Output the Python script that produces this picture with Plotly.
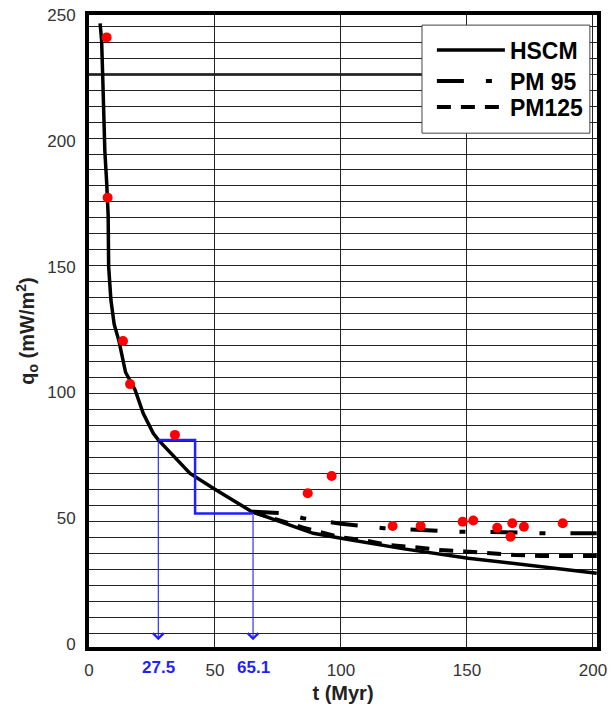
import plotly.graph_objects as go

# ---------------- data ----------------
hscm_t = [4.4, 5.0, 5.4, 5.8, 6.3, 7.0, 7.6, 7.8, 8.7, 10.0, 11.9, 14.5, 18.3, 21.5, 25.5, 27.5,
          34.8, 40.1, 49.3, 57.3, 64.6, 75.8, 83.7, 89.0, 100.0, 125.0, 150.5, 179.0, 201.5]
hscm_q = [246.7, 240.0, 227.0, 211.6, 195.7, 183.7, 170.5, 150.0, 136.7, 127.0, 120.4, 108.0, 101.0,
          91.7, 83.7, 81.1, 73.1, 67.8, 61.9, 57.2, 52.6, 48.6, 46.0, 44.0, 42.0, 37.8, 34.1, 30.7, 28.1]

pm95_t = [64.6, 76.0, 85.0, 95.0, 100.0, 110.0, 117.0, 125.0, 133.0, 148.0, 165.0, 180.0, 201.5]
pm95_q = [52.6, 52.0, 50.0, 48.5, 47.8, 46.8, 46.0, 45.6, 45.3, 44.6, 44.4, 44.0, 44.0]

pm125_t = [64.6, 76.0, 85.0, 95.0, 100.0, 109.0, 119.0, 129.0, 139.0, 149.0, 159.0, 169.0, 179.0, 190.0, 201.5]
pm125_q = [52.6, 48.8, 46.2, 43.6, 42.4, 41.3, 39.3, 38.5, 37.4, 36.8, 36.0, 35.4, 35.0, 35.0, 35.0]

obs_t = [7.0, 7.4, 13.5, 16.3, 34.1, 86.8, 96.3, 120.5, 131.6, 148.3, 152.5, 162.0, 168.0, 167.3, 172.6, 188.0]
obs_q = [241.1, 177.4, 120.4, 103.3, 83.1, 59.9, 66.8, 46.9, 46.9, 48.6, 49.1, 46.2, 48.0, 42.6, 46.6, 48.0]

step_t = [27.5, 42.1, 42.1, 65.1]
step_q = [81.1, 81.1, 51.9, 51.9]
arrow_t = [27.5, 65.1]
arrow_q = [81.1, 51.9]
arrow_labels = ["27.5", "65.1"]

x_ticks = [0, 50, 100, 150, 200]
y_ticks = [0, 50, 100, 150, 200, 250]

FONT = "Arial, Liberation Sans, sans-serif"
BLUE = "#1f1fff"

fig = go.Figure()

fig.add_trace(go.Scatter(x=hscm_t, y=hscm_q, mode="lines", name="<b>HSCM</b>", legend="legend",
                         line=dict(color="black", width=3.5)))
fig.add_trace(go.Scatter(x=pm95_t, y=pm95_q, mode="lines", name="<b>PM 95</b>", legend="legend2",
                         line=dict(color="black", width=4, dash="27px,22px,6px,25px")))
fig.add_trace(go.Scatter(x=pm125_t, y=pm125_q, mode="lines", name="<b>PM125</b>", legend="legend3",
                         line=dict(color="black", width=4, dash="14px,10px")))
fig.add_trace(go.Scatter(x=step_t, y=step_q, mode="lines", showlegend=False,
                         line=dict(color=BLUE, width=2.5)))
fig.add_trace(go.Scatter(x=obs_t, y=obs_q, mode="markers", showlegend=False,
                         marker=dict(color="#ff0000", size=10, line=dict(width=0))))

# arrows down to the axis and blue labels
for t, q, lab in zip(arrow_t, arrow_q, arrow_labels):
    fig.add_annotation(x=t, y=1.5, ax=t, ay=q, xref="x", yref="y", axref="x", ayref="y",
                       text="", showarrow=True, arrowhead=4, arrowsize=1.9, arrowwidth=1.1,
                       arrowcolor=BLUE)
    fig.add_annotation(x=t, y=-0.0332, xref="x", yref="paper", yanchor="middle",
                       text="<b>" + lab + "</b>", showarrow=False,
                       font=dict(family=FONT, size=17, color=BLUE))

# legend box
fig.add_shape(type="rect", xref="paper", yref="paper", x0=0.6555, x1=0.986, y0=0.813, y1=0.984,
              fillcolor="white", line=dict(color="#444", width=1), layer="above")
# darker grid line crossing to legend
fig.add_shape(type="line", xref="paper", yref="y", x0=0, x1=0.6555, y0=226.4, y1=226.4,
              line=dict(color="black", width=2.5), layer="below")

leg_common = dict(x=0.675, xanchor="left", yanchor="middle", bgcolor="rgba(0,0,0,0)",
                  borderwidth=0, font=dict(family=FONT, size=23, color="black"), itemwidth=68)

fig.update_layout(
    width=612, height=712,
    margin=dict(l=89, r=15, t=15, b=65),
    paper_bgcolor="white", plot_bgcolor="white",
    font=dict(family=FONT, color="#222"),
    showlegend=True,
    legend=dict(y=0.9446, **leg_common),
    legend2=dict(y=0.8956, **leg_common),
    legend3=dict(y=0.8544, **leg_common),
    xaxis=dict(range=[0, 201.6], tickmode="array", tickvals=x_ticks,
               ticktext=[str(v) for v in x_ticks], ticks="", showgrid=True,
               gridcolor="#222", gridwidth=1.2, zeroline=False, automargin=False,
               showline=True, linecolor="black", linewidth=4, mirror=True,
               ticklabelstandoff=5,
               tickfont=dict(family=FONT, size=17, color="#333"),
               title=dict(text="<b>t (Myr)</b>", font=dict(family=FONT, size=20, color="#222"),
                          standoff=8)),
    yaxis=dict(range=[-1.2, 250], tickmode="array", tickvals=y_ticks, ticks="",
               showgrid=False, zeroline=False, automargin=False,
               showline=True, linecolor="black", linewidth=4, mirror=True,
               ticklabelstandoff=6,
               tickfont=dict(family=FONT, size=17, color="#333"),
               minor=dict(tick0=4.25, dtick=6.35, showgrid=True, gridcolor="#222", gridwidth=1.4),
               title=dict(text="<b>q<sub>o</sub> (mW/m<sup>2</sup>)</b>",
                          font=dict(family=FONT, size=20, color="#222"), standoff=8)),
)

fig.write_html("out.html")
